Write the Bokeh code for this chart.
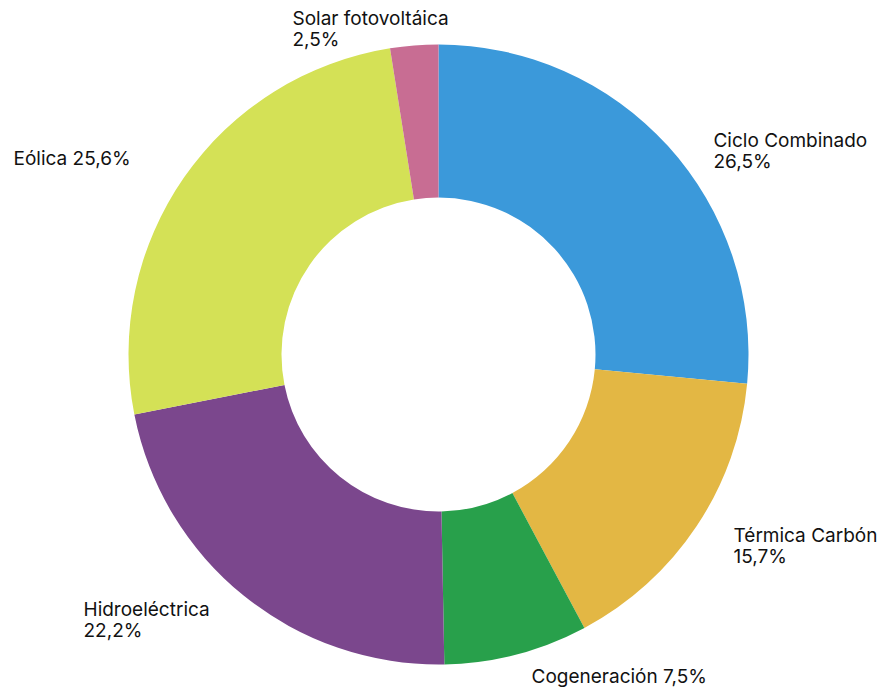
import math
from bokeh.plotting import figure
from bokeh.models import Range1d, ColumnDataSource
from bokeh.core.properties import value
from bokeh.embed import file_html
from bokeh.resources import INLINE

# ---- data ----
categories = ["Ciclo Combinado", "Térmica Carbón", "Cogeneración",
              "Hidroeléctrica", "Eólica", "Solar fotovoltáica"]
shares = [26.5, 15.7, 7.5, 22.2, 25.6, 2.5]
share_labels = ["26,5%", "15,7%", "7,5%", "22,2%", "25,6%", "2,5%"]
colors = ["#3B99DA", "#E3B744", "#28A04B", "#7B478D", "#D4E156", "#C86D93"]

# ---- layout (pixels) ----
OUTER, INNER = 310, 157
# label offsets from the slice's outer mid point, and whether the value goes on a second line
label_offsets = [(45.7, 5.4), (37, -9.2), (15, -22), (-160.4, -13.7), (-170.8, 18.1), (-121.7, 27)]
two_lines = [True, True, False, True, False, True]
FONT = "Inter"
FSIZE = "19px"
LINE_STEP = 21

W, H = 877, 687
p = figure(width=W, height=H, output_backend="svg", toolbar_location=None,
           x_range=Range1d(-438, 439), y_range=Range1d(-333, 354),
           min_border=0, match_aspect=False)
p.axis.visible = False
p.grid.visible = False
p.outline_line_color = None
p.background_fill_color = "white"
p.border_fill_color = "white"

total = sum(shares)
starts, ends, mids = [], [], []
cum = 0.0
for s in shares:
    a0 = math.pi / 2 - 2 * math.pi * cum / total
    cum += s
    a1 = math.pi / 2 - 2 * math.pi * cum / total
    starts.append(a0)
    ends.append(a1)
    mids.append((a0 + a1) / 2)

src = ColumnDataSource(dict(start=starts, end=ends, color=colors))
p.annular_wedge(x=0, y=0, inner_radius=INNER, outer_radius=OUTER,
                start_angle="start", end_angle="end", direction="clock",
                fill_color="color", line_color=None, source=src)

tx, ty, tt = [], [], []
for cat, lab, m, off, two in zip(categories, share_labels, mids, label_offsets, two_lines):
    ax = OUTER * math.cos(m) + off[0]
    ay = OUTER * math.sin(m) + off[1]
    if two:
        tx += [ax, ax]
        ty += [ay, ay - LINE_STEP]
        tt += [cat, lab]
    else:
        tx.append(ax)
        ty.append(ay)
        tt.append(f"{cat} {lab}")

p.text(x=tx, y=ty, text=tt, text_font=value(FONT), text_font_size=FSIZE,
       text_color="#111111", text_align="left", text_baseline="middle")

open("out.html", "w").write(file_html(p, INLINE))
